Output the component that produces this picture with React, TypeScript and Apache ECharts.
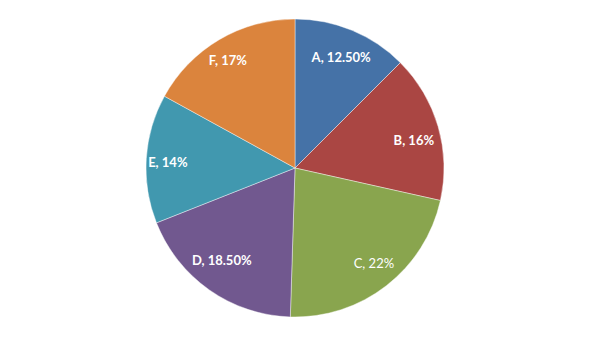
import React, { useEffect, useRef } from "react";
import * as echarts from "echarts";

const categories = ["A", "B", "C", "D", "E", "F"];
const values = [12.5, 16, 22, 18.5, 14, 17];
const colors = ["#4572A7", "#AA4643", "#89A54E", "#71588F", "#4198AF", "#DB843D"];
const boldFlags = [true, true, false, true, true, true];

// small label nudges (px) to mimic the reference's label placement
const LABEL_NUDGE: [number, number][] = [
  [-0.5, 1.4],
  [1.7, 5.7],
  [4.1, -1.5],
  [-3.1, -7.9],
  [-5.4, 1.8],
  [-5, -3.1],
];

function fmt(v: number): string {
  return Number.isInteger(v) ? `${v}%` : `${v.toFixed(2)}%`;
}

export default function App() {
  const ref = useRef<HTMLDivElement>(null);
  useEffect(() => {
    if (!ref.current) return;
    const chart = echarts.init(ref.current, undefined, { renderer: "svg" });
    const data = categories.map((c, i) => ({
      name: c,
      value: values[i],
      itemStyle: { color: colors[i] },
    }));
    const labelData = categories.map((c, i) => ({
      name: c,
      value: values[i],
      itemStyle: { color: "rgba(0,0,0,0)" },
      label: { fontWeight: boldFlags[i] ? "bold" : "normal" },
    }));
    chart.setOption({
      animation: false,
      backgroundColor: "#ffffff",
      series: [
        {
          type: "pie",
          center: [295, 168],
          radius: [0, 149],
          startAngle: 90,
          clockwise: true,
          silent: true,
          label: { show: false },
          labelLine: { show: false },
          itemStyle: { borderColor: "rgba(255,255,255,0.7)", borderWidth: 0.6 },
          data,
        },
        {
          type: "pie",
          center: [295, 168],
          radius: [89, 149],
          startAngle: 90,
          clockwise: true,
          silent: true,
          z: 5,
          itemStyle: { borderWidth: 0 },
          label: {
            show: true,
            position: "inside",
            color: "#ffffff",
            fontFamily: "Lato",
            fontSize: 13,
            formatter: (p: any) => `${p.name}, ${fmt(p.value)}`,
          },
          labelLayout: (params: any) => {
            const n = LABEL_NUDGE[params.dataIndex] || [0, 0];
            return { dx: n[0], dy: n[1] };
          },
          labelLine: { show: false },
          data: labelData,
        },
      ],
    });
    return () => chart.dispose();
  }, []);
  return <div ref={ref} style={{ width: 590, height: 343, position: "absolute", left: 0, top: 0 }} />;
}
